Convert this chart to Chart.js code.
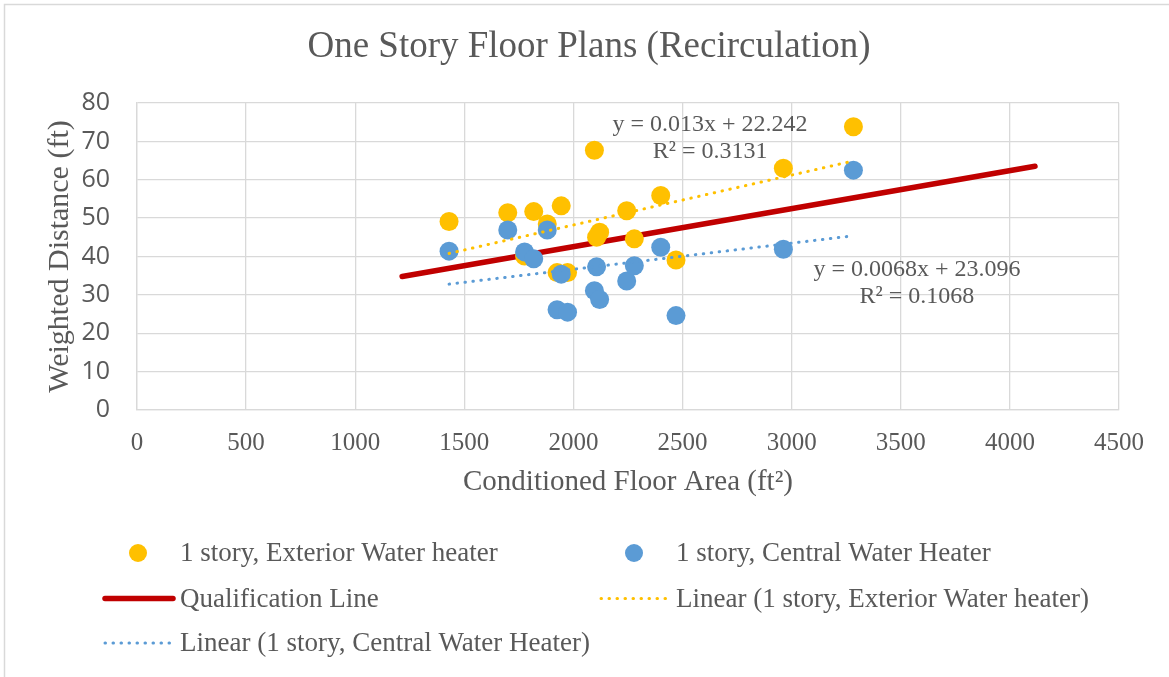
<!DOCTYPE html>
<html>
<head>
<meta charset="utf-8">
<script src="https://cdn.jsdelivr.net/npm/chart.js@4.4.1/dist/chart.umd.min.js"></script>
<style>
  html, body { margin: 0; padding: 0; background: #fff; }
  #wrap { position: relative; width: 1169px; height: 677px; }
</style>
</head>
<body>
<div id="wrap"><canvas id="chart" width="1169" height="677"></canvas></div>
<script>
// Conditioned floor area (ft2), one value per house
const floorArea = [1430, 1699, 1776, 1818, 1880, 1925, 1944, 1973, 2096, 2106, 2120, 2244, 2279, 2400, 2470, 2962, 3283];
// Weighted distance (ft) for each layout
const exteriorDist = [49.1, 51.4, 40.1, 51.7, 48.5, 35.8, 53.2, 35.8, 67.7, 45.0, 46.3, 51.9, 44.6, 55.9, 39.1, 63.0, 73.8];
const centralDist = [41.4, 46.9, 41.2, 39.4, 46.9, 26.1, 35.4, 25.5, 31.1, 37.3, 28.8, 33.6, 37.6, 42.4, 24.6, 41.9, 62.5];

// Line end points
const qualLine = [[1215, 34.8], [4115, 63.5]];
const exteriorTrend = [[1430, 40.8], [3283, 64.9]];
const centralTrend = [[1430, 32.8], [3283, 45.4]];

const xTicks = [0, 500, 1000, 1500, 2000, 2500, 3000, 3500, 4000, 4500];
const yTicks = [0, 10, 20, 30, 40, 50, 60, 70, 80];

const chartTitle = 'One Story Floor Plans (Recirculation)';

// Trendline equations, anchored in data units
const trendLabels = [
  { lines: ['y = 0.013x + 22.242', 'R\u00B2 = 0.3131'], x: 2626, y: [74.3, 67.2] },
  { lines: ['y = 0.0068x + 23.096', 'R\u00B2 = 0.1068'], x: 3574, y: [36.5, 29.4] }
];

const YELLOW = '#FFC000';
const BLUE = '#5B9BD5';
const RED = '#C00000';
const TEXT = '#595959';
const GRID = '#D9D9D9';
const SERIF = '"Liberation Serif", "Times New Roman", serif';
const SANS = '"Open Sans", "Noto Sans", sans-serif';

const toXY = arr => arr.map(p => ({ x: p[0], y: p[1] }));
const pts = (xs, ys) => xs.map((x, i) => ({ x, y: ys[i] }));

const datasets = [
  {
    label: '1 story, Exterior Water heater',
    data: pts(floorArea, exteriorDist),
    showLine: false,
    backgroundColor: YELLOW,
    borderColor: YELLOW,
    pointRadius: 9.5,
    pointBorderWidth: 0,
    order: 2
  },
  {
    label: '1 story, Central Water Heater',
    data: pts(floorArea, centralDist),
    showLine: false,
    backgroundColor: BLUE,
    borderColor: BLUE,
    pointRadius: 9.5,
    pointBorderWidth: 0,
    order: 1
  },
  {
    label: 'Qualification Line',
    data: toXY(qualLine),
    showLine: true,
    borderColor: RED,
    borderWidth: 5.5,
    borderCapStyle: 'round',
    pointRadius: 0,
    order: 3
  },
  {
    label: 'Linear (1 story, Exterior Water heater)',
    data: toXY(exteriorTrend),
    showLine: true,
    borderColor: YELLOW,
    borderWidth: 3,
    borderDash: [0.5, 7.5],
    borderCapStyle: 'round',
    pointRadius: 0,
    order: 0
  },
  {
    label: 'Linear (1 story, Central Water Heater)',
    data: toXY(centralTrend),
    showLine: true,
    borderColor: BLUE,
    borderWidth: 3,
    borderDash: [0.5, 7.5],
    borderCapStyle: 'round',
    pointRadius: 0,
    order: 0
  }
];

// legend slots: dataset index, column, row
const legendSlots = [
  { ds: 0, col: 0, row: 0 },
  { ds: 1, col: 1, row: 0 },
  { ds: 2, col: 0, row: 1 },
  { ds: 3, col: 1, row: 1 },
  { ds: 4, col: 0, row: 2 }
];

const framePlugin = {
  id: 'frame',
  beforeDraw(chart) {
    const ctx = chart.ctx;
    ctx.save();
    ctx.fillStyle = '#fff';
    ctx.fillRect(0, 0, chart.width, chart.height);
    ctx.strokeStyle = GRID;
    ctx.lineWidth = 1.5;
    ctx.strokeRect(4.5, 4.5, chart.width, chart.height);
    // title, centred on the whole frame like the original
    ctx.font = '37px ' + SERIF;
    ctx.fillStyle = TEXT;
    ctx.textAlign = 'center';
    ctx.textBaseline = 'middle';
    ctx.fillText(chartTitle, 589, 47);
    ctx.restore();
  }
};

const trendLabelPlugin = {
  id: 'trendLabels',
  afterDraw(chart) {
    const ctx = chart.ctx;
    const xs = chart.scales.x, ys = chart.scales.y;
    ctx.save();
    ctx.font = '24px ' + SERIF;
    ctx.fillStyle = TEXT;
    ctx.textAlign = 'center';
    ctx.textBaseline = 'middle';
    trendLabels.forEach(t => {
      t.lines.forEach((line, i) => {
        ctx.fillText(line, xs.getPixelForValue(t.x), ys.getPixelForValue(t.y[i]));
      });
    });
    ctx.restore();
  }
};

const legendPlugin = {
  id: 'sideLegend',
  afterDraw(chart) {
    const ctx = chart.ctx;
    const colSym = [103, 599];
    const colText = [180, 676];
    const rowY = [553, 598.5, 643];
    ctx.save();
    ctx.font = '27px ' + SERIF;
    ctx.textBaseline = 'middle';
    legendSlots.forEach(s => {
      const ds = chart.data.datasets[s.ds];
      const x0 = colSym[s.col], y = rowY[s.row];
      if (ds.showLine) {
        ctx.save();
        ctx.strokeStyle = ds.borderColor;
        ctx.lineWidth = ds.borderWidth;
        ctx.lineCap = 'round';
        ctx.setLineDash(ds.borderDash || []);
        ctx.beginPath();
        ctx.moveTo(x0 + 2, y);
        ctx.lineTo(x0 + 70, y);
        ctx.stroke();
        ctx.restore();
      } else {
        ctx.fillStyle = ds.backgroundColor;
        ctx.beginPath();
        ctx.arc(x0 + 35, y, 9, 0, Math.PI * 2);
        ctx.fill();
      }
      ctx.fillStyle = TEXT;
      ctx.fillText(ds.label, colText[s.col], y + 1);
    });
    ctx.restore();
  }
};

const chart = new Chart(document.getElementById('chart'), {
  type: 'scatter',
  data: { datasets },
  plugins: [framePlugin, trendLabelPlugin, legendPlugin],
  options: {
    responsive: false,
    animation: false,
    layout: { padding: { left: 5, top: 103, right: 50, bottom: 177 } },
    plugins: {
      legend: { display: false },
      tooltip: { enabled: false },
      title: { display: false }
    },
    scales: {
      x: {
        type: 'linear',
        min: 0,
        max: 4500,
        afterBuildTicks: s => { s.ticks = xTicks.map(v => ({ value: v })); },
        afterFit: s => { s.height = 90; },
        grid: { color: GRID, lineWidth: 1.3, drawTicks: false },
        border: { color: GRID, width: 1.3 },
        ticks: {
          color: TEXT,
          font: { family: SERIF, size: 25 },
          padding: 18,
          maxRotation: 0,
          callback: v => String(v)
        },
        title: {
          display: true,
          text: 'Conditioned Floor Area (ft\u00B2)',
          color: TEXT,
          font: { family: SERIF, size: 29 },
          padding: { top: 0, bottom: 0 }
        }
      },
      y: {
        type: 'linear',
        min: 0,
        max: 80,
        afterBuildTicks: s => { s.ticks = yTicks.map(v => ({ value: v })); },
        afterFit: s => { s.width = 132; },
        grid: { color: GRID, lineWidth: 1.3, drawTicks: false },
        border: { color: GRID, width: 1.3 },
        ticks: { color: TEXT, font: { family: SANS, size: 25 }, padding: 27 },
        title: {
          display: true,
          text: 'Weighted Distance (ft)',
          color: TEXT,
          font: { family: SERIF, size: 30 },
          padding: { top: 37, bottom: 0 }
        }
      }
    }
  }
});
</script>
</body>
</html>
